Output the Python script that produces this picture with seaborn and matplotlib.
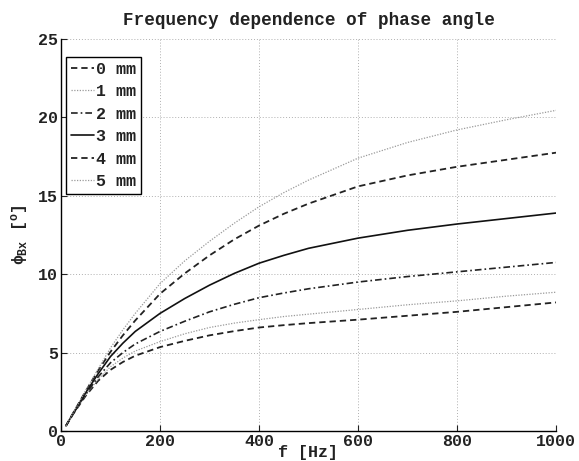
import numpy as np
import pandas as pd
import matplotlib
matplotlib.use("Agg")
import matplotlib.pyplot as plt
import seaborn as sns

freq = [10, 25, 50, 75, 100, 125, 150, 200, 250, 300, 350, 400, 450, 500, 600, 700, 800, 900, 1000]
phi_0mm = [0.33, 1.10, 2.25, 3.20, 3.90, 4.40, 4.80, 5.35, 5.75, 6.10, 6.37, 6.60, 6.75, 6.88, 7.10, 7.35, 7.60, 7.90, 8.20]
phi_1mm = [0.33, 1.10, 2.30, 3.30, 4.10, 4.65, 5.10, 5.70, 6.20, 6.60, 6.88, 7.10, 7.30, 7.45, 7.75, 8.05, 8.30, 8.60, 8.85]
phi_2mm = [0.33, 1.12, 2.35, 3.45, 4.35, 5.00, 5.55, 6.35, 7.00, 7.60, 8.08, 8.50, 8.80, 9.07, 9.50, 9.85, 10.15, 10.45, 10.75]
phi_3mm = [0.33, 1.15, 2.45, 3.65, 4.75, 5.60, 6.35, 7.50, 8.45, 9.30, 10.05, 10.70, 11.20, 11.65, 12.30, 12.80, 13.20, 13.55, 13.90]
phi_4mm = [0.33, 1.17, 2.55, 3.85, 5.05, 6.10, 7.05, 8.75, 10.05, 11.20, 12.22, 13.10, 13.85, 14.50, 15.60, 16.30, 16.85, 17.30, 17.75]
phi_5mm = [0.33, 1.18, 2.60, 3.95, 5.30, 6.45, 7.50, 9.40, 10.85, 12.10, 13.25, 14.30, 15.20, 16.00, 17.40, 18.40, 19.20, 19.85, 20.45]

labels = ["0 mm", "1 mm", "2 mm", "3 mm", "4 mm", "5 mm"]
series = [phi_0mm, phi_1mm, phi_2mm, phi_3mm, phi_4mm, phi_5mm]

sns.set_theme(style="white")
plt.rcParams['font.family'] = ['Liberation Mono', 'DejaVu Sans']
plt.rcParams['font.weight'] = 'bold'
plt.rcParams['mathtext.fontset'] = 'custom'
plt.rcParams['mathtext.rm'] = 'Liberation Mono:bold'
plt.rcParams['mathtext.it'] = 'Liberation Mono:bold'
plt.rcParams['mathtext.bf'] = 'Liberation Mono:bold'

fig = plt.figure(figsize=(5.79, 4.61), dpi=100)
ax = fig.add_axes([61/579, 30/461, 495/579, 392/461])

styles = [
    dict(color="#222222", linestyle=(0, (3.5, 2.2)), linewidth=1.3),
    dict(color="#9a9a9a", linestyle=(0, (1, 1.2)), linewidth=0.9),
    dict(color="#222222", linestyle=(0, (4, 1.8, 1, 1.8)), linewidth=1.2),
    dict(color="#111111", linestyle="-", linewidth=1.2),
    dict(color="#222222", linestyle=(0, (3.5, 2.2)), linewidth=1.3),
    dict(color="#9a9a9a", linestyle=(0, (1, 1.2)), linewidth=0.9),
]

for lab, vals, st in zip(labels, series, styles):
    df = pd.DataFrame({"f": freq, "phi": vals})
    sns.lineplot(data=df, x="f", y="phi", ax=ax, label=lab, **st)

ax.set_xlim(0, 1000)
ax.set_ylim(0, 25)
ax.set_xticks([0, 200, 400, 600, 800, 1000])
ax.set_yticks([0, 5, 10, 15, 20, 25])
ax.grid(True, color="#b0b0b0", linestyle=(0, (1, 2)), linewidth=0.7)
for s in ["top", "right"]:
    ax.spines[s].set_visible(False)
for s in ["left", "bottom"]:
    ax.spines[s].set_color("black")
    ax.spines[s].set_linewidth(1.0)
ax.tick_params(direction="in", length=4, width=0.8, colors="#222222",
               labelsize=12, left=True, bottom=True, pad=2)
for t in ax.get_xticklabels() + ax.get_yticklabels():
    t.set_fontweight("bold")

ax.set_title("Frequency dependence of phase angle", fontsize=12.7, fontweight="bold", pad=10, color="#222222")
ax.set_xlabel("f [Hz]", fontsize=12, fontweight="bold", labelpad=-3, color="#222222")
ax.set_ylabel(r"$\phi_{Bx}$ [$^o$]", fontsize=12, fontweight="bold", labelpad=6, color="#222222")

leg = ax.legend(loc="upper left", bbox_to_anchor=(0.01, 0.955), fontsize=12,
                frameon=True, fancybox=False, handlelength=1.4, handletextpad=0.1,
                borderpad=0.3, labelspacing=0.45, borderaxespad=0.0)
leg.get_frame().set_edgecolor("black")
leg.get_frame().set_linewidth(1.0)
leg.get_frame().set_alpha(1)
for t in leg.get_texts():
    t.set_fontweight("bold")
    t.set_color("#222222")

fig.savefig("out.png", dpi=100)
